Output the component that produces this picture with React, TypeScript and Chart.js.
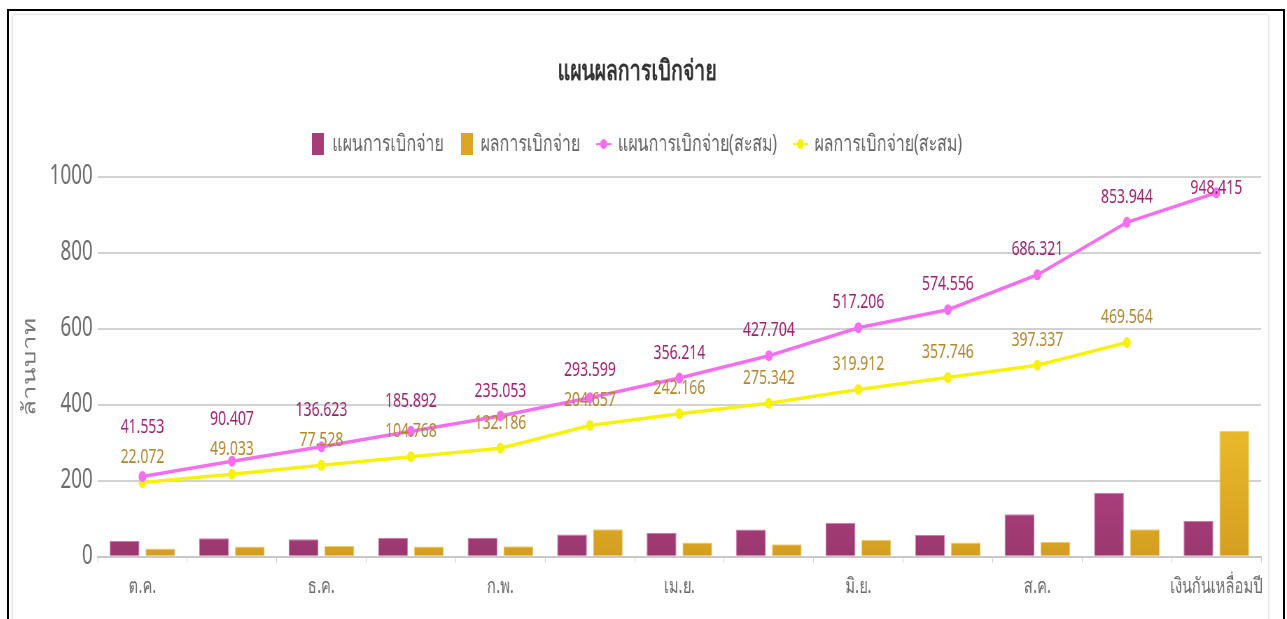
import React, { useEffect, useRef } from 'react';
import { Chart, registerables } from 'chart.js';

Chart.register(...registerables);

const categories = ['ต.ค.', 'พ.ย.', 'ธ.ค.', 'ม.ค.', 'ก.พ.', 'มี.ค.', 'เม.ย.', 'พ.ค.', 'มิ.ย.', 'ก.ค.', 'ส.ค.', 'ก.ย.', 'เงินกันเหลื่อมปี'];
const planMonthly = [41.55, 48.85, 46.22, 49.27, 49.16, 58.55, 62.62, 71.49, 89.5, 57.35, 111.77, 167.62, 94.47];
const resultMonthly = [22.07, 26.96, 28.5, 27.24, 27.42, 72.47, 37.51, 33.18, 44.57, 37.83, 39.59, 72.23, 331];
const planCumulative = [41.553, 90.407, 136.623, 185.892, 235.053, 293.599, 356.214, 427.704, 517.206, 574.556, 686.321, 853.944, 948.415];
const resultCumulative: (number | null)[] = [22.072, 49.033, 77.528, 104.768, 132.186, 204.657, 242.166, 275.342, 319.912, 357.746, 397.337, 469.564, null];
const seriesNames = ['แผนการเบิกจ่าย', 'ผลการเบิกจ่าย', 'แผนการเบิกจ่าย(สะสม)', 'ผลการเบิกจ่าย(สะสม)'];
const chartTitle = 'แผนผลการเบิกจ่าย';
const yAxisTitle = 'ล้านบาท';

const FONT = "'Noto Sans', sans-serif";
const SQUEEZE = 0.7; // the whole picture is horizontally condensed
const CANVAS_W = 1793;
const CANVAS_H = 605;
const PINK_BAR = '#a93c78';
const GOLD_BAR = '#dba623';
const PINK_LINE = '#f56ef0';
const YELLOW_LINE = '#f7f20c';
const PINK_TEXT = '#a21f6e';
const GOLD_TEXT = '#b5852b';

function makeBoxIcon(color: string) {
  const c = document.createElement('canvas');
  c.width = 17; c.height = 22;
  const g = c.getContext('2d')!;
  g.fillStyle = color;
  g.fillRect(0, 0, 17, 22);
  return c;
}
function makeLineIcon(color: string) {
  const c = document.createElement('canvas');
  c.width = 22; c.height = 12;
  const g = c.getContext('2d')!;
  g.strokeStyle = color;
  g.lineWidth = 2;
  g.beginPath(); g.moveTo(0, 6); g.lineTo(22, 6); g.stroke();
  g.fillStyle = color;
  g.beginPath(); g.arc(11, 6, 5, 0, Math.PI * 2); g.fill();
  return c;
}

const labelPlugin = {
  id: 'cumLabels',
  afterInit(chart: any) {
    const lg = chart.legend;
    if (lg) {
      const orig = lg.fit.bind(lg);
      lg.fit = () => { orig(); lg.height += 11; };
    }
  },
  afterDatasetsDraw(chart: any) {
    const ctx = chart.ctx;
    const area = chart.chartArea;
    const planMeta = chart.getDatasetMeta(2);
    const resMeta = chart.getDatasetMeta(3);
    ctx.save();
    ctx.font = `20px ${FONT}`;
    ctx.textAlign = 'center';
    ctx.textBaseline = 'middle';
    const OFFSET = 25, GAP = 30, MINTOP = area.top + 12;
    const resY: number[] = [];
    resMeta.data.forEach((pt: any, i: number) => {
      const v = resultCumulative[i];
      if (v == null || pt.skip) return;
      const y = pt.y - OFFSET;
      resY[i] = y;
      ctx.fillStyle = GOLD_TEXT;
      ctx.fillText(v.toFixed(3), pt.x, y);
    });
    planMeta.data.forEach((pt: any, i: number) => {
      let y = pt.y - OFFSET;
      if (resY[i] != null) y = Math.min(y, resY[i] - GAP);
      y = Math.max(y, MINTOP);
      ctx.fillStyle = PINK_TEXT;
      ctx.fillText(planCumulative[i].toFixed(3), pt.x, y);
    });
    ctx.restore();
  },
};

function barGradient(top: string, bottom: string) {
  return (c: any) => {
    const area = c.chart.chartArea;
    if (!area) return bottom;
    const g = c.chart.ctx.createLinearGradient(0, area.bottom - 130, 0, area.bottom);
    g.addColorStop(0, top);
    g.addColorStop(1, bottom);
    return g;
  };
}

export default function App() {
  const ref = useRef<HTMLCanvasElement>(null);
  useEffect(() => {
    if (!ref.current) return;
    const icons = [makeBoxIcon(PINK_BAR), makeBoxIcon(GOLD_BAR), makeLineIcon(PINK_LINE), makeLineIcon(YELLOW_LINE)];
    const chart = new Chart(ref.current, {
      type: 'bar',
      data: {
        labels: categories,
        datasets: [
          {
            type: 'bar', label: seriesNames[0], data: planMonthly, yAxisID: 'y',
            backgroundColor: barGradient('#b9438a', '#9b386f'), borderColor: '#cf79aa', borderWidth: 1,
            categoryPercentage: 0.8, barPercentage: 0.83,
          },
          {
            type: 'bar', label: seriesNames[1], data: resultMonthly, yAxisID: 'y',
            backgroundColor: barGradient('#ebba2b', '#d49f20'), borderColor: '#f0cf70', borderWidth: 1,
            categoryPercentage: 0.8, barPercentage: 0.83,
          },
          {
            type: 'line', label: seriesNames[2], data: planCumulative, yAxisID: 'y1',
            borderColor: PINK_LINE, backgroundColor: PINK_LINE, borderWidth: 3.5,
            pointRadius: 5.5, pointBackgroundColor: PINK_LINE, pointBorderWidth: 0, tension: 0,
          },
          {
            type: 'line', label: seriesNames[3], data: resultCumulative, yAxisID: 'y1',
            borderColor: YELLOW_LINE, backgroundColor: YELLOW_LINE, borderWidth: 3.5,
            pointRadius: 5.5, pointBackgroundColor: YELLOW_LINE, pointBorderWidth: 0, tension: 0,
          },
        ] as any,
      },
      options: {
        animation: false,
        responsive: true,
        maintainAspectRatio: false,
        layout: { padding: { top: 0, right: 10, bottom: 8, left: 0 } },
        plugins: {
          tooltip: { enabled: false },
          title: {
            display: true, text: chartTitle, color: '#333',
            font: { family: FONT, size: 28, weight: '600' as any },
            padding: { top: 40, bottom: 19 },
          },
          legend: {
            display: true,
            labels: {
              usePointStyle: true,
              pointStyleWidth: 17,
              boxHeight: 22,
              padding: 25,
              color: '#666',
              font: { family: FONT, size: 23 },
              generateLabels: () => seriesNames.map((t, i) => ({
                text: t, pointStyle: icons[i] as any, fillStyle: 'transparent', strokeStyle: 'transparent',
                lineWidth: 0, hidden: false, datasetIndex: i, fontColor: '#666',
              })),
            },
          },
        },
        scales: {
          x: {
            offset: true,
            grid: { display: true, drawOnChartArea: false, offset: true, tickLength: 6, color: '#cccccc', lineWidth: 1 },
            border: { display: true, color: '#c8c8c8', width: 2 },
            ticks: {
              autoSkip: false, maxRotation: 0, padding: 12, color: '#6b6b6b',
              font: { family: FONT, size: 21 },
              callback: (_v: any, i: number) => (i % 2 === 0 ? categories[i] : ''),
            },
            afterFit: (s: any) => { s.paddingLeft = 0; s.paddingRight = 0; },
          },
          y: {
            min: 0, max: 1000,
            ticks: { stepSize: 200, padding: 7, color: '#6b6b6b', font: { family: FONT, size: 27 }, callback: (v: any) => String(v) },
            grid: { color: '#d2d2d2', lineWidth: 2, drawTicks: false },
            border: { display: false },
            title: { display: true, text: yAxisTitle, color: '#777', font: { family: FONT, size: 26 }, padding: { top: 9, bottom: 4 } },
            afterFit: (s: any) => { s.width = 121; },
          },
          y1: { display: false, min: -215, max: 1000 },
        },
      },
      plugins: [labelPlugin],
    });
    return () => chart.destroy();
  }, []);

  return (
    <div style={{ position: 'fixed', inset: 0, overflow: 'hidden', background: '#fff' }}>
      <div style={{ position: 'absolute', left: 7, top: 9, width: 1278, height: 700, border: '2px solid #000', boxSizing: 'border-box' }}>
        <div style={{ position: 'absolute', left: 3, top: 3, width: 1255, height: 680, border: '1px solid #e6e6e6', boxShadow: '0 0 3px rgba(0,0,0,0.12)', borderRadius: 3 }}>
          <div style={{ position: 'absolute', left: 0, top: 0, width: CANVAS_W, height: CANVAS_H, transform: `scaleX(${SQUEEZE})`, transformOrigin: '0 0' }}>
            <canvas ref={ref} />
          </div>
        </div>
      </div>
    </div>
  );
}
